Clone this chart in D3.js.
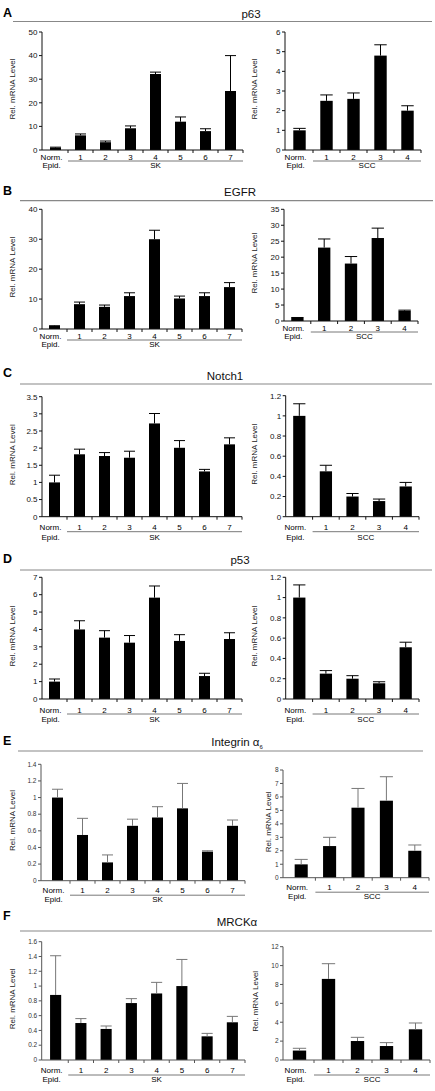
<!DOCTYPE html>
<html><head><meta charset="utf-8">
<script src="https://cdn.jsdelivr.net/npm/d3@7"></script>
<style>body{margin:0;background:#fff} text{font-family:"Liberation Sans",Arial,Helvetica,sans-serif}</style>
</head><body><svg id="c" width="435" height="1091"></svg>
<script>
// ---------- DATA ----------
const skCategories = ["Norm.","1","2","3","4","5","6","7"];
const sccCategories = ["Norm.","1","2","3","4"];
const panelLetters = ["A","B","C","D","E","F"];
const geneTitles = ["p63","EGFR","Notch1","p53","Integrin α","MRCKα"];
const groupLabels = ["SK","SCC"];

const p63SK = [1, 6.2, 3.3, 9.2, 32.2, 12, 8, 25];
const p63SKUpper = [1.2, 6.8, 3.8, 10.2, 33, 14, 9, 40];
const p63SKTicks = [0,10,20,30,40,50];
const p63SCC = [1, 2.5, 2.6, 4.8, 2.0];
const p63SCCUpper = [1.1, 2.8, 2.9, 5.35, 2.25];
const p63SCCTicks = [0,1,2,3,4,5,6];

const egfrSK = [1, 8.3, 7.4, 11, 30, 10.2, 11, 14];
const egfrSKUpper = [1.1, 9, 8, 12.1, 33, 11, 12.1, 15.5];
const egfrSKTicks = [0,10,20,30,40];
const egfrSCC = [1, 23, 18, 26, 3.2];
const egfrSCCUpper = [1.1, 25.7, 20.2, 29.1, 3.4];
const egfrSCCTicks = [0,5,10,15,20,25,30,35];

const notch1SK = [1.0, 1.82, 1.77, 1.72, 2.72, 2.01, 1.32, 2.11];
const notch1SKUpper = [1.21, 1.97, 1.87, 1.91, 3.01, 2.22, 1.38, 2.3];
const notch1SKTicks = [0,0.5,1,1.5,2,2.5,3,3.5];
const notch1SCC = [1.0, 0.45, 0.2, 0.155, 0.3];
const notch1SCCUpper = [1.12, 0.51, 0.23, 0.175, 0.34];
const notch1SCCTicks = [0,0.2,0.4,0.6,0.8,1,1.2];

const p53SK = [1.0, 4.0, 3.53, 3.24, 5.83, 3.34, 1.32, 3.45];
const p53SKUpper = [1.15, 4.5, 3.93, 3.65, 6.5, 3.7, 1.48, 3.81];
const p53SKTicks = [0,1,2,3,4,5,6,7];
const p53SCC = [1.0, 0.25, 0.2, 0.155, 0.51];
const p53SCCUpper = [1.125, 0.28, 0.23, 0.17, 0.56];
const p53SCCTicks = [0,0.2,0.4,0.6,0.8,1,1.2];

const itgSK = [1.0, 0.55, 0.22, 0.66, 0.76, 0.87, 0.35, 0.66];
const itgSKUpper = [1.1, 0.75, 0.31, 0.74, 0.89, 1.17, 0.36, 0.73];
const itgSKTicks = [0,0.2,0.4,0.6,0.8,1,1.2,1.4];
const itgSCC = [0.99, 2.35, 5.2, 5.72, 2.0];
const itgSCCUpper = [1.36, 3.0, 6.63, 7.5, 2.43];
const itgSCCTicks = [0,1,2,3,4,5,6,7,8];

const mrckSK = [0.88, 0.5, 0.42, 0.77, 0.9, 1.0, 0.32, 0.51];
const mrckSKUpper = [1.41, 0.56, 0.46, 0.83, 1.05, 1.36, 0.36, 0.59];
const mrckSKTicks = [0,0.2,0.4,0.6,0.8,1,1.2,1.4,1.6];
const mrckSCC = [1.0, 8.59, 2.01, 1.48, 3.25];
const mrckSCCUpper = [1.24, 10.2, 2.4, 1.84, 3.92];
const mrckSCCTicks = [0,2,4,6,8,10,12];

const skSeries = [[p63SK,p63SKUpper,p63SKTicks],[egfrSK,egfrSKUpper,egfrSKTicks],[notch1SK,notch1SKUpper,notch1SKTicks],
  [p53SK,p53SKUpper,p53SKTicks],[itgSK,itgSKUpper,itgSKTicks],[mrckSK,mrckSKUpper,mrckSKTicks]];
const sccSeries = [[p63SCC,p63SCCUpper,p63SCCTicks],[egfrSCC,egfrSCCUpper,egfrSCCTicks],[notch1SCC,notch1SCCUpper,notch1SCCTicks],
  [p53SCC,p53SCCUpper,p53SCCTicks],[itgSCC,itgSCCUpper,itgSCCTicks],[mrckSCC,mrckSCCUpper,mrckSCCTicks]];

// ---------- LAYOUT ----------
const layout = [
 {ly:17, tx:251, ty:17.5, ry:21.5, rx1:13, rx2:432, lab:[9.5,17.8,11], light:false,
  L:{ax:42, r:[43,243], y:[150,32], tt:27}, R:{ax:285, r:[286,421], y:[150,32], tt:28}},
 {ly:195, tx:240, ty:195.5, ry:200.7, rx1:20, rx2:433, lab:[9.5,17.8,11], light:false,
  L:{ax:42, r:[42,242], y:[329,209.3], tt:27}, R:{ax:284, r:[284,418], y:[321,209.3], tt:27}},
 {ly:377, tx:225, ty:380, ry:384, rx1:20, rx2:432, lab:[13.5,23,15], light:false,
  L:{ax:42, r:[42,242], y:[516.7,396.7], tt:27}, R:{ax:285.7, r:[286,419], y:[516.7,395.7], tt:29}},
 {ly:563, tx:240, ty:564, ry:570, rx1:20, rx2:432, lab:[13.5,23,15], light:false,
  L:{ax:42, r:[42,242], y:[699,577.3], tt:27}, R:{ax:285.7, r:[286,419], y:[699,577.3], tt:29}},
 {ly:745, tx:237, ty:746, ry:751, rx1:18, rx2:423, lab:[12.5,21.5,14.5], light:true,
  L:{ax:41, r:[45,245], y:[880.7,764.3], tt:26}, R:{ax:283, r:[287,429], y:[877.7,770], tt:12}},
 {ly:920, tx:237, ty:926, ry:931, rx1:20, rx2:432, lab:[13,21.5,15], light:true,
  L:{ax:41.7, r:[43,245], y:[1060,941.7], tt:27}, R:{ax:283, r:[285,430], y:[1060,946.7], tt:25}}
];

const svg = d3.select("#c");

function drawChart(g, cats, vals, upper, ticks, lo, lab, light, groupLabel) {
  const pad = cats.length > 5 ? 0.56 : 0.54;
  const x = d3.scaleBand().domain(cats).range(lo.r).paddingInner(pad).paddingOuter(pad/2);
  const y = d3.scaleLinear().domain([0, d3.max(ticks)]).range(lo.y);
  const axisCol = light ? "#555" : "#111";
  const errCol = light ? "#777" : "#000";
  const y0 = y(0);
  const step = x.step();
  const off = (step - x.bandwidth())/2;
  // bars
  g.selectAll("rect.bar").data(vals).join("rect")
    .attr("x",(d,i)=>x(cats[i])).attr("width",x.bandwidth())
    .attr("y",d=>y(d)).attr("height",d=>y0-y(d)).attr("fill","#000");
  // error bars
  upper.forEach((u,i)=>{
    const cx = x(cats[i]) + x.bandwidth()/2;
    g.append("line").attr("x1",cx).attr("x2",cx).attr("y1",y(vals[i])).attr("y2",y(u))
      .attr("stroke",errCol).attr("stroke-width",1);
    g.append("line").attr("x1",x(cats[i])).attr("x2",x(cats[i])+x.bandwidth()).attr("y1",y(u)).attr("y2",y(u))
      .attr("stroke",errCol).attr("stroke-width",1);
  });
  // y axis
  g.append("line").attr("x1",lo.ax).attr("x2",lo.ax).attr("y1",y0).attr("y2",y(d3.max(ticks)))
    .attr("stroke",axisCol).attr("stroke-width",1);
  ticks.forEach(t=>{
    g.append("line").attr("x1",lo.ax-3).attr("x2",lo.ax).attr("y1",y(t)).attr("y2",y(t)).attr("stroke",axisCol);
    g.append("text").attr("x",lo.ax-4.5).attr("y",y(t)).attr("dy","0.35em").attr("text-anchor","end")
      .attr("font-size",light?6.5:8).attr("fill",light?"#333":"#111").text(String(t));
  });
  // x axis
  const xEnd = lo.r[1];
  g.append("line").attr("x1",lo.ax).attr("x2",xEnd).attr("y1",y0).attr("y2",y0).attr("stroke",axisCol);
  cats.forEach((c,i)=>{
    const bx = x(c) - off + step;
    g.append("line").attr("x1",bx).attr("x2",bx).attr("y1",y0).attr("y2",y0+3).attr("stroke",axisCol);
  });
  // y title
  const ym = (y0 + y(d3.max(ticks)))/2 - 2;
  g.append("text").attr("transform",`translate(${lo.ax-lo.tt},${ym}) rotate(-90)`).attr("text-anchor","middle")
    .attr("font-size",8).attr("fill","#222").text("Rel. mRNA Level");
  // category labels
  cats.forEach((c,i)=>{
    const cx = x(c)+x.bandwidth()/2 + (i===0?-4:0);
    g.append("text").attr("x",cx).attr("y",y0+lab[0]).attr("text-anchor","middle").attr("font-size",8).attr("fill","#000").text(c);
  });
  g.append("text").attr("x",x(cats[0])+x.bandwidth()/2-4).attr("y",y0+lab[1]).attr("text-anchor","middle")
    .attr("font-size",8).attr("fill","#000").text("Epid.");
  const gx1 = x(cats[1]) - off, gx2 = xEnd;
  g.append("line").attr("x1",gx1).attr("x2",gx2).attr("y1",y0+lab[2]).attr("y2",y0+lab[2]).attr("stroke","#555").attr("stroke-width",0.8);
  g.append("text").attr("x",(gx1+gx2)/2).attr("y",y0+lab[1]).attr("text-anchor","middle")
    .attr("font-size",8).attr("fill","#000").text(groupLabel);
}

layout.forEach((lo,k)=>{
  const g = svg.append("g");
  g.append("text").attr("x",3).attr("y",lo.ly).attr("font-size",12.5).attr("font-weight","bold").text(panelLetters[k]);
  const t = g.append("text").attr("x",lo.tx).attr("y",lo.ty).attr("text-anchor","middle").attr("font-size",11.5).attr("fill","#111").text(geneTitles[k]);
  if (k===4) t.append("tspan").attr("font-size",6).attr("dy",2.5).text("6");
  g.append("line").attr("x1",lo.rx1).attr("x2",lo.rx2).attr("y1",lo.ry).attr("y2",lo.ry).attr("stroke","#888").attr("stroke-width",1.2);
  drawChart(g.append("g"), skCategories, skSeries[k][0], skSeries[k][1], skSeries[k][2], lo.L, lo.lab, lo.light, groupLabels[0]);
  drawChart(g.append("g"), sccCategories, sccSeries[k][0], sccSeries[k][1], sccSeries[k][2], lo.R, lo.lab, lo.light, groupLabels[1]);
});
</script></body></html>
